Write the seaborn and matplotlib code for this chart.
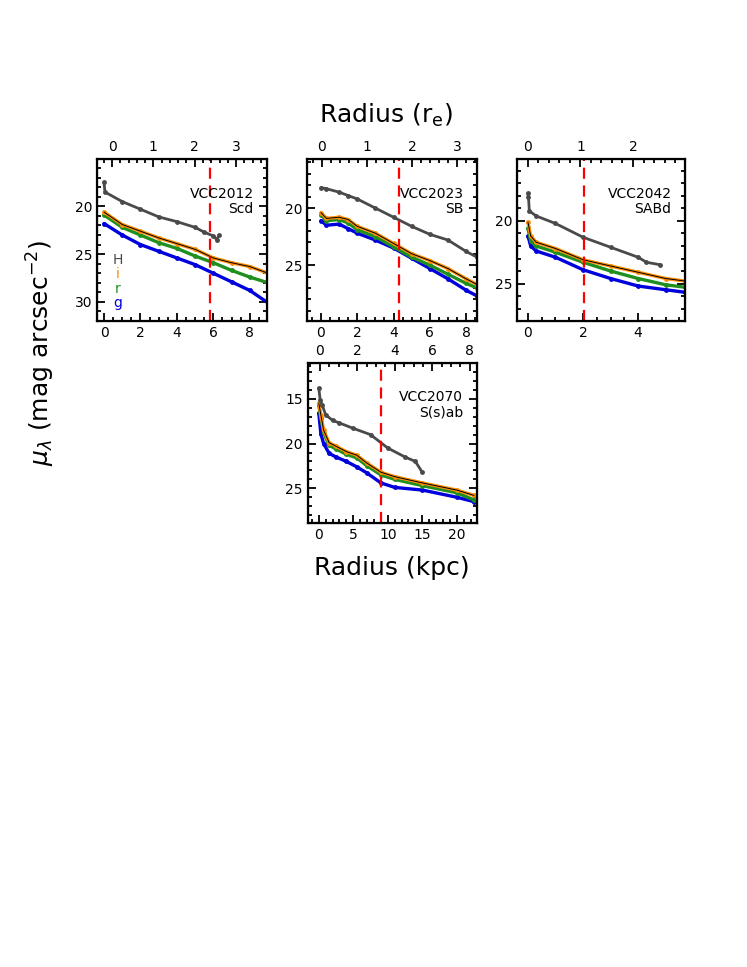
import matplotlib
matplotlib.use("Agg")
import matplotlib.pyplot as plt
import seaborn as sns
import pandas as pd
from matplotlib.ticker import MultipleLocator

sns.set_style("ticks")
plt.rcParams['font.family'] = ['DejaVu Sans']
plt.rcParams['mathtext.fontset'] = 'dejavusans'
for key in ["text.color", "axes.labelcolor", "xtick.color", "ytick.color",
            "axes.edgecolor"]:
    plt.rcParams[key] = "black"

# ---- data (radius in kpc, surface brightness in mag/arcsec^2)
# VCC2012 (Scd)
r2012 = [0, 1, 2, 3, 4, 5, 6, 7, 8, 9]
h2012_r = [0, 0.05, 1, 2, 3, 4, 5, 5.5, 6.0, 6.2, 6.3]
h2012 = [17.5, 18.5, 19.5, 20.3, 21.1, 21.6, 22.2, 22.7, 23.1, 23.5, 23.0]
i2012 = [20.6, 21.9, 22.6, 23.3, 23.9, 24.5, 25.4, 25.9, 26.3, 27.0]
rr2012 = [20.9, 22.2, 23.0, 23.8, 24.4, 25.2, 25.9, 26.7, 27.4, 28.0]
g2012 = [21.8, 23.0, 24.0, 24.7, 25.4, 26.1, 27.0, 27.9, 28.8, 30.1]

# VCC2023 (SB)
r2023 = [0, 0.3, 1, 1.5, 2, 3, 4, 5, 6, 7, 8, 8.6]
h2023 = [18.2, 18.3, 18.6, 18.9, 19.2, 20.0, 20.8, 21.6, 22.3, 22.8, 23.8, 24.3]
i2023 = [20.4, 20.9, 20.8, 21.0, 21.6, 22.2, 23.1, 24.0, 24.6, 25.3, 26.2, 26.7]
rr2023 = [20.6, 21.1, 21.0, 21.3, 21.9, 22.5, 23.4, 24.3, 25.0, 25.8, 26.6, 27.0]
g2023 = [21.1, 21.5, 21.4, 21.8, 22.2, 22.8, 23.5, 24.4, 25.3, 26.2, 27.2, 27.7]

# VCC2042 (SABd)
r2042 = [0, 0.1, 0.3, 1, 2, 3, 4, 5, 5.7]
h2042_r = [0, 0.02, 0.05, 0.3, 1, 2, 3, 4, 4.3, 4.8]
h2042 = [17.8, 18.1, 19.2, 19.6, 20.2, 21.3, 22.1, 22.9, 23.3, 23.5]
i2042 = [20.1, 21.2, 21.7, 22.2, 23.1, 23.6, 24.1, 24.6, 24.8]
rr2042 = [20.6, 21.6, 22.0, 22.5, 23.3, 24.0, 24.6, 25.1, 25.3]
g2042 = [21.2, 22.0, 22.4, 22.9, 23.9, 24.6, 25.2, 25.5, 25.7]

# VCC2070 (S(s)ab)
r2070 = [0, 0.3, 0.7, 1.5, 2.5, 4, 5.5, 7, 9, 11, 15, 20, 22.5]
h2070_r = [0, 0.2, 0.5, 1, 2, 3, 5, 7.5, 10, 12.5, 14, 15]
h2070 = [13.8, 15.1, 15.7, 16.8, 17.4, 17.7, 18.3, 19.0, 20.5, 21.5, 22.0, 23.2]
i2070 = [15.5, 16.8, 18.5, 19.9, 20.3, 20.9, 21.3, 22.2, 23.2, 23.7, 24.4, 25.2, 25.8]
rr2070 = [15.7, 17.1, 18.8, 20.2, 20.6, 21.2, 21.6, 22.5, 23.5, 24.0, 24.7, 25.5, 26.3]
g2070 = [16.6, 18.9, 20.0, 21.1, 21.5, 22.0, 22.6, 23.3, 24.4, 24.9, 25.2, 26.0, 26.5]

names = ["VCC2012\nScd", "VCC2023\nSB", "VCC2042\nSABd", "VCC2070\nS(s)ab"]
re_kpc = [5.8, 4.3, 2.05, 9.0]   # dashed line: effective radius

bands = ["g", "r", "i"]
colors = {"H": "#4a4a4a", "i": "#ff8c00", "r": "#1f8f1f", "g": "#0000dd"}

panels = [
    (r2012, h2012_r, h2012, i2012, rr2012, g2012),
    (r2023, r2023, h2023, i2023, rr2023, g2023),
    (r2042, h2042_r, h2042, i2042, rr2042, g2042),
    (r2070, h2070_r, h2070, i2070, rr2070, g2070),
]

# layout (figure fractions) and axis ranges
rects = [
    [0.130, 0.668, 0.2276, 0.1675],
    [0.411, 0.668, 0.2276, 0.1675],
    [0.692, 0.668, 0.2250, 0.1675],
    [0.412, 0.459, 0.2262, 0.1655],
]
xlims = [(-0.38, 8.95), (-0.77, 8.6), (-0.4, 5.7), (-1.6, 22.9)]
relims = [(-0.36, 3.75), (-0.33, 3.44), (-0.21, 2.99), (-0.64, 8.37)]
ylims = [(32.0, 15.05), (29.9, 15.7), (28.0, 15.05), (28.9, 11.0)]
xmaj = [2, 2, 2, 5]
xmin = [0.5, 0.5, 0.5, 1]
remaj = [1, 1, 1, 2]
remin = [0.2, 0.2, 0.2, 0.5]

fig = plt.figure(figsize=(7.47, 9.67), dpi=100)

for k, (rad, hrad, hmag, imag, rmag, gmag) in enumerate(panels):
    ax = fig.add_axes(rects[k])
    df = pd.DataFrame({
        "R": rad * 3,
        "mu": gmag + rmag + imag,
        "band": ["g"] * len(rad) + ["r"] * len(rad) + ["i"] * len(rad),
    })
    sns.lineplot(data=df, x="R", y="mu", hue="band", hue_order=bands,
                 palette=colors, marker="o", markersize=3.5, markeredgewidth=0,
                 linewidth=2.4, sort=False, legend=False, ax=ax)
    sns.lineplot(x=rad, y=imag, color="black", linewidth=0.7, sort=False, ax=ax)
    sns.lineplot(x=hrad, y=hmag, color=colors["H"], marker="o", markersize=3.5,
                 markeredgewidth=0, linewidth=2.0, sort=False, ax=ax)
    ax.axvline(re_kpc[k], color="red", linestyle=(0, (5, 3)), linewidth=1.6)

    ax.set_xlim(*xlims[k])
    ax.set_ylim(*ylims[k])
    ax.xaxis.set_major_locator(MultipleLocator(xmaj[k]))
    ax.xaxis.set_minor_locator(MultipleLocator(xmin[k]))
    ax.yaxis.set_major_locator(MultipleLocator(5))
    ax.yaxis.set_minor_locator(MultipleLocator(1))
    ax.set_xlabel("")
    ax.set_ylabel("")
    ax.tick_params(which="both", direction="in", right=True, top=False,
                   labelsize=10, width=1.3)
    ax.tick_params(which="major", length=6)
    ax.tick_params(which="minor", length=3)
    for s in ax.spines.values():
        s.set_linewidth(1.6)

    top = ax.twiny()
    top.set_xlim(*relims[k])
    top.xaxis.set_major_locator(MultipleLocator(remaj[k]))
    top.xaxis.set_minor_locator(MultipleLocator(remin[k]))
    top.tick_params(which="both", direction="in", labelsize=10, width=1.3)
    top.tick_params(which="major", length=6)
    top.tick_params(which="minor", length=3)

    ax.text(0.92, 0.83, names[k], transform=ax.transAxes, ha="right",
            va="top", fontsize=10, linespacing=1.1)

# band legend in the first panel
ax0 = fig.axes[0]
for lab, yy in zip(["H", "i", "r", "g"], [0.375, 0.29, 0.20, 0.11]):
    ax0.text(0.12, yy, lab, color=colors[lab], transform=ax0.transAxes,
             fontsize=10, ha="center", va="center")

fig.text(0.516, 0.881, r"Radius (r$_\mathregular{e}$)", ha="center", va="center",
         fontsize=18)
fig.text(0.525, 0.413, "Radius (kpc)", ha="center", va="center", fontsize=18)
fig.text(0.055, 0.635, r"$\mu_\lambda$ (mag arcsec$^{-2}$)", ha="center",
         va="center", rotation=90, fontsize=18)

fig.savefig("out.png", dpi=100)
